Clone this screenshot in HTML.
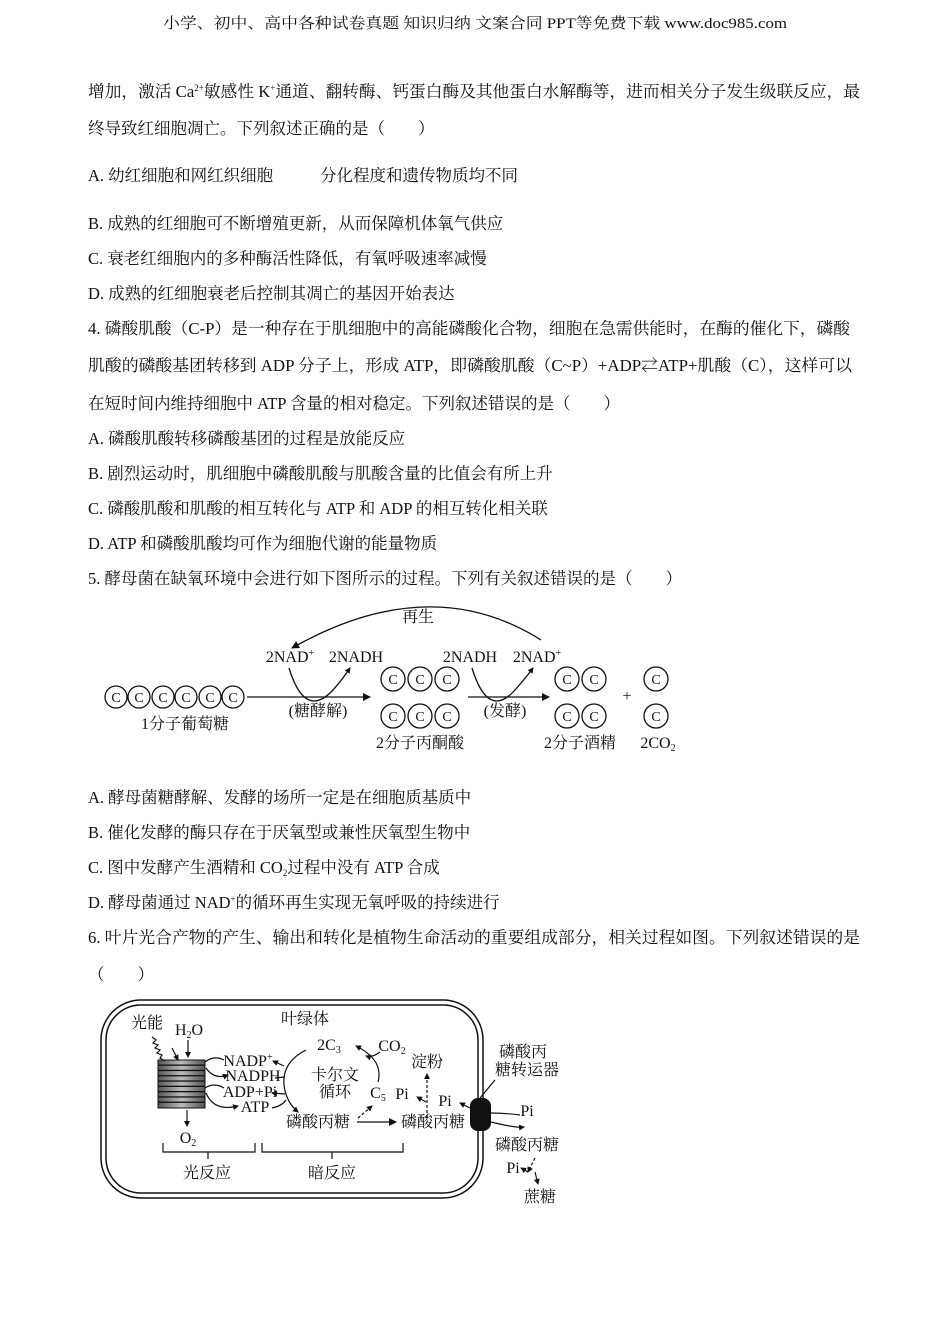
<!DOCTYPE html>
<html><head><meta charset="utf-8"><style>
html,body{margin:0;padding:0;background:#fff;}
svg{display:block;font-family:"Liberation Serif","Noto Serif CJK SC","Noto Sans CJK SC",serif;fill:#111;}
</style></head><body>
<svg width="950" height="1344" viewBox="0 0 950 1344" xmlns="http://www.w3.org/2000/svg">
<defs>
<marker id="ah" markerWidth="8" markerHeight="8" refX="7" refY="4" orient="auto" markerUnits="userSpaceOnUse"><path d="M0,0 L8,4 L0,8 Z" fill="#111"/></marker>
<marker id="as" markerWidth="6" markerHeight="6" refX="5" refY="3" orient="auto" markerUnits="userSpaceOnUse"><path d="M0,0 L6,3 L0,6 Z" fill="#111"/></marker>
<linearGradient id="g" x1="0" x2="1"><stop offset="0" stop-color="#555"/><stop offset="0.5" stop-color="#bbb"/><stop offset="1" stop-color="#555"/></linearGradient>
</defs>
<g font-size="15">
<text x="475" y="28" text-anchor="middle" textLength="624" lengthAdjust="spacingAndGlyphs">小学、初中、高中各种试卷真题  知识归纳  文案合同  PPT等免费下载     www.doc985.com</text>
</g>
<g font-size="16.5">
<text x="88" y="97" textLength="772" lengthAdjust="spacingAndGlyphs">增加，激活 Ca<tspan font-size="9" dy="-6">2+</tspan><tspan dy="6">敏感性 K</tspan><tspan font-size="9" dy="-6">+</tspan><tspan dy="6">通道、翻转酶、钙蛋白酶及其他蛋白水解酶等，进而相关分子发生级联反应，最</tspan></text>
<text x="88" y="134">终导致红细胞凋亡。下列叙述正确的是（　　）</text>
<text x="88" y="181">A. 幼红细胞和网红织细胞</text>
<text x="320" y="181">分化程度和遗传物质均不同</text>
<text x="88" y="229">B. 成熟的红细胞可不断增殖更新，从而保障机体氧气供应</text>
<text x="88" y="264">C. 衰老红细胞内的多种酶活性降低，有氧呼吸速率减慢</text>
<text x="88" y="299">D. 成熟的红细胞衰老后控制其凋亡的基因开始表达</text>
<text x="88" y="334" textLength="762" lengthAdjust="spacingAndGlyphs">4. 磷酸肌酸（C-P）是一种存在于肌细胞中的高能磷酸化合物，细胞在急需供能时，在酶的催化下，磷酸</text>
<text x="88" y="371" textLength="764" lengthAdjust="spacingAndGlyphs">肌酸的磷酸基团转移到 ADP 分子上，形成 ATP，即磷酸肌酸（C~P）+ADP⇄ATP+肌酸（C），这样可以</text>
<text x="88" y="409">在短时间内维持细胞中 ATP 含量的相对稳定。下列叙述错误的是（　　）</text>
<text x="88" y="444">A. 磷酸肌酸转移磷酸基团的过程是放能反应</text>
<text x="88" y="479">B. 剧烈运动时，肌细胞中磷酸肌酸与肌酸含量的比值会有所上升</text>
<text x="88" y="514">C. 磷酸肌酸和肌酸的相互转化与 ATP 和 ADP 的相互转化相关联</text>
<text x="88" y="549">D. ATP 和磷酸肌酸均可作为细胞代谢的能量物质</text>
<text x="88" y="584">5. 酵母菌在缺氧环境中会进行如下图所示的过程。下列有关叙述错误的是（　　）</text>
<text x="88" y="803">A. 酵母菌糖酵解、发酵的场所一定是在细胞质基质中</text>
<text x="88" y="838">B. 催化发酵的酶只存在于厌氧型或兼性厌氧型生物中</text>
<text x="88" y="873">C. 图中发酵产生酒精和 CO<tspan font-size="9" dy="3">2</tspan><tspan dy="-3">过程中没有 ATP 合成</tspan></text>
<text x="88" y="908">D. 酵母菌通过 NAD<tspan font-size="9" dy="-6">+</tspan><tspan dy="6">的循环再生实现无氧呼吸的持续进行</tspan></text>
<text x="88" y="943" textLength="772" lengthAdjust="spacingAndGlyphs">6. 叶片光合产物的产生、输出和转化是植物生命活动的重要组成部分，相关过程如图。下列叙述错误的是</text>
<text x="88" y="980">（　　）</text>
</g>

<!-- Diagram 1 -->
<g stroke="#111" stroke-width="1.3" fill="none">
<circle cx="116" cy="697" r="11"/><circle cx="139" cy="697" r="11"/><circle cx="163" cy="697" r="11"/><circle cx="186" cy="697" r="11"/><circle cx="210" cy="697" r="11"/><circle cx="233" cy="697" r="11"/>
<circle cx="393" cy="679" r="12"/><circle cx="420" cy="679" r="12"/><circle cx="447" cy="679" r="12"/>
<circle cx="393" cy="716" r="12"/><circle cx="420" cy="716" r="12"/><circle cx="447" cy="716" r="12"/>
<circle cx="567" cy="679" r="12"/><circle cx="594" cy="679" r="12"/>
<circle cx="567" cy="716" r="12"/><circle cx="594" cy="716" r="12"/>
<circle cx="656" cy="679" r="12"/><circle cx="656" cy="716" r="12"/>
<line x1="247" y1="697" x2="370" y2="697" marker-end="url(#ah)"/>
<line x1="468" y1="697" x2="549" y2="697" marker-end="url(#ah)"/>
<path d="M541,640 Q430,570 292,648" marker-end="url(#ah)"/>
<path d="M289,668 Q305,720 333,690 Q342,680 350,668" marker-end="url(#as)"/>
<path d="M472,668 Q488,720 515,690 Q524,680 533,668" marker-end="url(#as)"/>
</g>
<g font-size="16" text-anchor="middle">
<g font-size="14">
<text x="116" y="702">C</text><text x="139" y="702">C</text><text x="163" y="702">C</text><text x="186" y="702">C</text><text x="210" y="702">C</text><text x="233" y="702">C</text>
<text x="393" y="684">C</text><text x="420" y="684">C</text><text x="447" y="684">C</text>
<text x="393" y="721">C</text><text x="420" y="721">C</text><text x="447" y="721">C</text>
<text x="567" y="684">C</text><text x="594" y="684">C</text><text x="567" y="721">C</text><text x="594" y="721">C</text>
<text x="656" y="684">C</text><text x="656" y="721">C</text>
</g>
<text x="627" y="701">+</text>
<text x="418" y="622">再生</text>
<text x="290" y="662">2NAD<tspan font-size="10" dy="-6">+</tspan></text>
<text x="356" y="662">2NADH</text>
<text x="470" y="662">2NADH</text>
<text x="537" y="662">2NAD<tspan font-size="10" dy="-6">+</tspan></text>
<text x="185" y="729">1分子葡萄糖</text>
<text x="318" y="716">(糖酵解)</text>
<text x="505" y="716">(发酵)</text>
<text x="420" y="748">2分子丙酮酸</text>
<text x="580" y="748">2分子酒精</text>
<text x="658" y="748">2CO<tspan font-size="10" dy="3">2</tspan></text>
</g>

<!-- Diagram 2 -->
<g stroke="#111" stroke-width="1.5" fill="none">
<rect x="101" y="1000" width="382" height="198" rx="40"/>
<rect x="106" y="1005" width="372" height="188" rx="35"/>
</g>
<rect x="470" y="1098" width="21" height="33" rx="8" fill="#111"/>
<g stroke="#111" stroke-width="1">
<rect x="158" y="1060" width="47" height="48" fill="url(#g)"/>
<g fill="url(#g)">
<rect x="158" y="1060" width="47" height="5"/><rect x="158" y="1065.3" width="47" height="5"/><rect x="158" y="1070.6" width="47" height="5"/><rect x="158" y="1075.9" width="47" height="5"/><rect x="158" y="1081.2" width="47" height="5"/><rect x="158" y="1086.5" width="47" height="5"/><rect x="158" y="1091.8" width="47" height="5"/><rect x="158" y="1097.1" width="47" height="5"/><rect x="158" y="1102.4" width="47" height="5.6"/>
</g>
</g>
<g stroke="#111" stroke-width="1.2" fill="none">
<path d="M152,1037 l4,3 -3,3 5,2 -3,3 5,2 -3,3 5,2 -2,3 5,3" />
<line x1="172" y1="1048" x2="178" y2="1060" marker-end="url(#as)"/>
<line x1="188" y1="1040" x2="188" y2="1057" marker-end="url(#as)"/>
<line x1="187" y1="1110" x2="187" y2="1126" marker-end="url(#as)"/>
<path d="M206,1068 Q214,1080 228,1075" marker-end="url(#as)"/>
<path d="M206,1093 Q214,1112 238,1106" marker-end="url(#as)"/>
<path d="M205,1062 Q214,1055 224,1060" />
<path d="M205,1088 Q214,1082 224,1088" />
<!-- calvin cycle arcs -->
<path d="M306,1050 Q282,1062 284,1085 Q286,1102 298,1112" marker-end="url(#as)"/>
<path d="M378,1082 Q384,1060 356,1046" marker-end="url(#as)"/>
<path d="M284,1066 L273,1061" marker-end="url(#as)"/>
<path d="M275,1078 L284,1077"/>
<path d="M285,1094 L272,1093" marker-end="url(#as)"/>
<path d="M272,1108 Q282,1106 286,1100"/>
<path d="M380,1052 Q372,1058 366,1056" marker-end="url(#as)"/>
<path d="M357,1122 L396,1122" marker-end="url(#ah)"/>
<path d="M358,1118 L372,1106" stroke-dasharray="3,2" marker-end="url(#as)"/>
<path d="M427,1118 L427,1074" stroke-dasharray="3,2" marker-end="url(#as)"/>
<path d="M426,1102 L417,1097" marker-end="url(#as)"/>
<path d="M470,1108 L460,1103" marker-end="url(#as)"/>
<path d="M520,1115 Q505,1113 491,1113" />
<path d="M491,1122 Q515,1128 524,1127" marker-end="url(#as)"/>
<path d="M480,1098 L495,1080"/>
<path d="M535,1158 L528,1172" stroke-dasharray="3,2" marker-end="url(#as)"/>
<path d="M528,1172 L521,1168" marker-end="url(#as)"/>
<path d="M535,1172 L538,1184" marker-end="url(#as)"/>
<path d="M163,1143 V1152 H255 V1143 M208,1152 V1159"/>
<path d="M262,1143 V1152 H403 V1143 M332,1152 V1159"/>
</g>
<g font-size="16" text-anchor="middle">
<text x="147" y="1028">光能</text>
<text x="189" y="1035">H<tspan font-size="10" dy="3">2</tspan><tspan dy="-3">O</tspan></text>
<text x="305" y="1024">叶绿体</text>
<text x="248" y="1066">NADP<tspan font-size="10" dy="-6">+</tspan></text>
<text x="253" y="1081">NADPH</text>
<text x="250" y="1097">ADP+Pi</text>
<text x="255" y="1112">ATP</text>
<text x="188" y="1143">O<tspan font-size="10" dy="3">2</tspan></text>
<text x="329" y="1050">2C<tspan font-size="10" dy="3">3</tspan></text>
<text x="392" y="1051">CO<tspan font-size="10" dy="3">2</tspan></text>
<text x="335" y="1080">卡尔文</text>
<text x="335" y="1097">循环</text>
<text x="378" y="1098">C<tspan font-size="10" dy="3">5</tspan></text>
<text x="427" y="1067">淀粉</text>
<text x="402" y="1099">Pi</text>
<text x="445" y="1106">Pi</text>
<text x="318" y="1127">磷酸丙糖</text>
<text x="433" y="1127">磷酸丙糖</text>
<text x="523" y="1057">磷酸丙</text>
<text x="527" y="1075">糖转运器</text>
<text x="527" y="1116">Pi</text>
<text x="527" y="1150">磷酸丙糖</text>
<text x="513" y="1173">Pi</text>
<text x="540" y="1202">蔗糖</text>
<text x="207" y="1178">光反应</text>
<text x="332" y="1178">暗反应</text>
</g>
</svg>
</body></html>
